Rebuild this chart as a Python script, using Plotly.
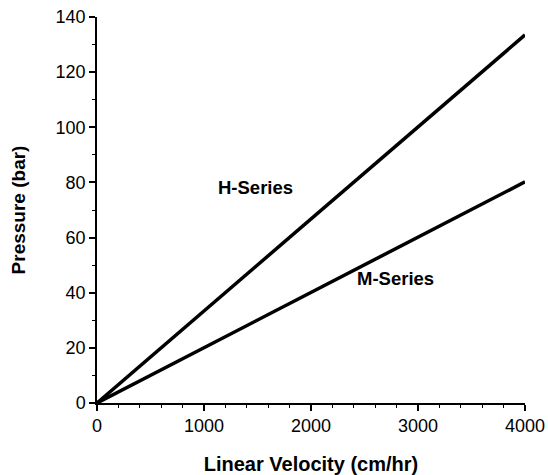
import plotly.graph_objects as go

velocity = [0, 4000]
h_series = [0, 133.5]
m_series = [0, 80.2]
x_ticks = [0, 1000, 2000, 3000, 4000]
y_ticks = [0, 20, 40, 60, 80, 100, 120, 140]

FONT = "Liberation Sans, Arial, Helvetica, sans-serif"

fig = go.Figure()
fig.add_trace(go.Scatter(x=velocity, y=h_series, mode="lines",
                         line=dict(color="black", width=3.5), name="H-Series",
                         cliponaxis=False))
fig.add_trace(go.Scatter(x=velocity, y=m_series, mode="lines",
                         line=dict(color="black", width=3.5), name="M-Series",
                         cliponaxis=False))

fig.add_annotation(x=1480, y=78.3, text="<b>H-Series</b>", showarrow=False,
                   font=dict(family=FONT, size=18.5, color="black"))
fig.add_annotation(x=2785, y=45.3, text="<b>M-Series</b>", showarrow=False,
                   font=dict(family=FONT, size=18.5, color="black"))

fig.update_layout(
    width=548, height=475,
    margin=dict(l=97, r=23, t=17, b=72, autoexpand=False),
    paper_bgcolor="white", plot_bgcolor="white",
    showlegend=False,
    font=dict(family=FONT, color="black"),
)
fig.update_xaxes(
    range=[0, 4000], tickvals=x_ticks, ticktext=[str(v) for v in x_ticks],
    showgrid=False, zeroline=False, showline=True, linecolor="black", linewidth=1.5,
    ticks="outside", ticklen=6, tickwidth=1.5, tickcolor="black",
    tickfont=dict(family=FONT, size=18),
    minor=dict(dtick=200, ticks="outside", ticklen=3, tickwidth=1, tickcolor="black"),
    automargin=False,
    title=dict(text="<b>Linear Velocity (cm/hr)</b>", font=dict(family=FONT, size=20), standoff=28),
)
fig.update_yaxes(
    range=[0, 140], tickvals=y_ticks, ticktext=[str(v) for v in y_ticks],
    showgrid=False, zeroline=False, showline=True, linecolor="black", linewidth=1.5,
    ticks="outside", ticklen=6, tickwidth=1.5, tickcolor="black",
    tickfont=dict(family=FONT, size=18),
    minor=dict(dtick=10, ticks="outside", ticklen=3, tickwidth=1, tickcolor="black"),
    automargin=False,
    title=dict(text="<b>Pressure (bar)</b>", font=dict(family=FONT, size=19), standoff=25),
)

fig.write_html("out.html")
